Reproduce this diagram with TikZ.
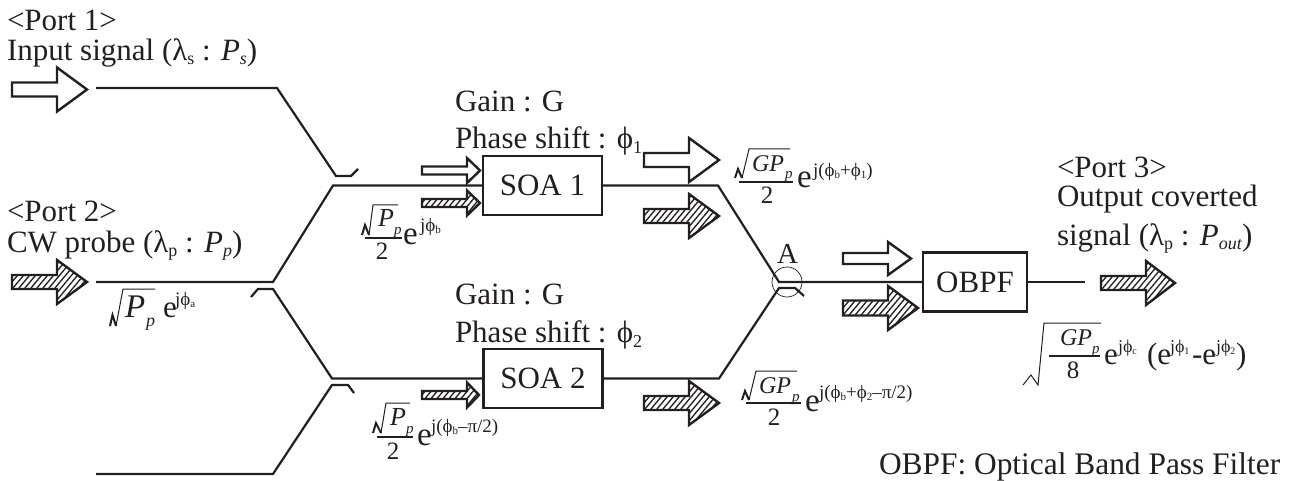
\documentclass[tikz,border=0pt]{standalone}
\usepackage{fontspec}
\setmainfont{Liberation Serif}
\newcommand{\Rs}[3]{\raisebox{#1pt}{\fontsize{#2}{#2}\selectfont #3}}
\newcommand{\Tx}[4]{\node[txt] (#1) at (#2) {\fontsize{#3}{#3}\selectfont #4};}
% x0, cy, total length, body half height, head half height, head length
\newcommand{\ArrPath}[6]{(#1,#2-#4) -- ({#1+#3-#6},#2-#4) -- ({#1+#3-#6},#2-#5) -- ({#1+#3},#2) -- ({#1+#3-#6},#2+#5) -- ({#1+#3-#6},#2+#4) -- (#1,#2+#4) -- cycle}
\newcommand{\HollowArr}[6]{\draw[arrowline] \ArrPath{#1}{#2}{#3}{#4}{#5}{#6};}
\newcommand{\HatchArr}[6]{%
  \begin{scope}
    \clip \ArrPath{#1}{#2}{#3}{#4}{#5}{#6};
    \foreach \k in {0,6,...,132} {\draw[hatchline] ({#1-25+\k},#2+30) -- ({#1+25+\k},#2-30);}
  \end{scope}
  \draw[arrowline] \ArrPath{#1}{#2}{#3}{#4}{#5}{#6};}
\begin{document}
\begin{tikzpicture}[x=1pt,y=-1pt,
  txt/.style={anchor=base west,inner sep=0pt,outer sep=0pt,text=textcol},
  mid/.style={anchor=base,inner sep=0pt,outer sep=0pt,text=textcol},
  wire/.style={line width=2.2pt,draw=linecol,line join=miter},
  arrowline/.style={line width=2.4pt,draw=linecol,line join=miter},
  hatchline/.style={line width=1.3pt,draw=linecol},
  box/.style={draw=linecol,line width=2.4pt,inner sep=0pt,minimum width=119pt,minimum height=59pt,text=textcol,font=\fontsize{31}{31}\selectfont},
  root/.style={line width=1pt,draw=linecol,line join=miter},
  rootthick/.style={line width=2pt,draw=linecol},
  bar/.style={line width=1.1pt,draw=linecol}]
\definecolor{linecol}{RGB}{35,31,32}
\colorlet{textcol}{linecol}
\useasboundingbox (0,0) rectangle (1296,481);

% boxes
\node[box] (soa1) at (542.5,185.5) {SOA 1};
\node[box] (soa2) at (543,378.5) {SOA 2};
\node[box,minimum width=104pt] (obpf) at (975,282) {OBPF};

% waveguide corners
\coordinate (a1) at (96,88); \coordinate (a2) at (277,88); \coordinate (a3) at (336,176); \coordinate (a4) at (351,176); \coordinate (a5) at (358,169);
\coordinate (b1) at (96,282); \coordinate (b2) at (273,282); \coordinate (b3) at (333,185.5);
\coordinate (c1) at (251,297); \coordinate (c2) at (258,289); \coordinate (c3) at (273,289); \coordinate (c4) at (332,378.5);
\coordinate (d1) at (354,393); \coordinate (d2) at (348,385); \coordinate (d3) at (332,385); \coordinate (d4) at (273,474); \coordinate (d5) at (96,474);
\coordinate (e1) at (718,185.5); \coordinate (e2) at (779,282);
\coordinate (f1) at (804,296); \coordinate (f2) at (795,288); \coordinate (f3) at (779,288); \coordinate (f4) at (719,378.5);
\coordinate (g1) at (1085,282);

\draw[wire] (a1) -- (a2) -- (a3) -- (a4) -- (a5);
\draw[wire] (b1) -- (b2) -- (b3) -- (soa1.west);
\draw[wire] (c1) -- (c2) -- (c3) -- (c4) -- (soa2.west);
\draw[wire] (d1) -- (d2) -- (d3) -- (d4) -- (d5);
\draw[wire] (soa1.east) -- (e1) -- (e2) -- (obpf.west);
\draw[wire] (soa2.east) -- (f4) -- (f3) -- (f2) -- (f1);
\draw[wire] (obpf.east) -- (g1);
\node[draw=linecol,line width=0.7pt,circle,minimum size=30pt,inner sep=0pt] (ca) at (787,282) {};

% arrows
\HollowArr{12}{89.5}{75}{7}{22}{30}
\HatchArr{12}{282}{75}{7}{22}{30}
\HollowArr{422}{170.5}{58}{4}{12.5}{13}
\HatchArr{422}{203}{58}{4}{12.5}{13}
\HatchArr{422}{395}{57}{4}{12.5}{12}
\HollowArr{644}{160}{75}{7}{22}{30}
\HatchArr{644}{216}{75}{7}{22}{30}
\HatchArr{644}{403}{75}{7}{22}{30}
\HollowArr{843}{258.5}{68}{5.5}{16.5}{23}
\HatchArr{843}{308}{75}{7.5}{22}{30}
\HatchArr{1101}{283}{74}{7}{22}{29}

% labels
\Tx{p1}{7,31}{31}{<Port 1>}
\Tx{p1b}{7,61}{31}{Input signal (λ\Rs{-4}{18}{s} : \textit{P}\Rs{-4}{18}{\textit{s}})}
\Tx{p2}{7,222}{31}{<Port 2>}
\Tx{p2b}{7,253}{31}{CW probe (λ\Rs{-4}{18}{p} : \textit{P}\Rs{-4}{18}{\textit{p}})}
\Tx{g1t}{455,112}{31}{Gain : G}
\Tx{ph1}{455,149}{31}{Phase shift : ϕ\Rs{-5}{18}{1}}
\Tx{g2t}{455,304}{31}{Gain : G}
\Tx{ph2}{455,342}{31}{Phase shift : ϕ\Rs{-5}{18}{2}}
\Tx{p3}{1057,178}{31}{<Port 3>}
\Tx{p3b}{1057,207}{31}{Output coverted}
\Tx{p3c}{1057,246}{31}{signal (λ\Rs{-4}{18}{p} : \textit{P}\Rs{-4}{18}{\textit{out}})}
\Tx{la}{777,264}{29}{A}
\Tx{note}{879,474}{31.4}{OBPF: Optical Band Pass Filter}

% sqrt(Pp) e^{j phi a}
\draw[rootthick] (110,326) -- (112.5,315) -- (116,326);
\draw[root] (116,326) -- (123,289) -- (155,289);
\Tx{f0a}{125,317}{33}{\textit{P}}
\Tx{f0b}{146,326}{18}{\textit{p}}
\Tx{f0c}{163,317}{31}{e}
\Tx{f0d}{175,305}{19}{jϕ\Rs{-2}{11}{a}}

% sqrt(Pp)/2 e^{j phi b}
\draw[rootthick] (362,235) -- (365,225) -- (369,235);
\draw[root] (369,235) -- (373,205) -- (398,205);
\draw[bar] (365,238) -- (402,238);
\Tx{f1a}{378,227}{26}{\textit{P}}
\Tx{f1b}{394,235}{15}{\textit{p}}
\node[mid] (f1c) at (382,259) {\fontsize{25}{25}\selectfont 2};
\Tx{f1d}{403,245}{33}{e}
\Tx{f1e}{420,232}{19}{jϕ\Rs{-2}{11}{b}}

% sqrt(Pp)/2 e^{j(phi b - pi/2)}
\draw[rootthick] (373,433) -- (376,423) -- (381,433);
\draw[root] (381,433) -- (386,403) -- (410,403);
\draw[bar] (377,437) -- (413,437);
\Tx{f2a}{390,425}{26}{\textit{P}}
\Tx{f2b}{406,433}{15}{\textit{p}}
\node[mid] (f2c) at (393,459) {\fontsize{25}{25}\selectfont 2};
\Tx{f2d}{417,445}{33}{e}
\Tx{f2e}{431,432}{19}{j(ϕ\Rs{-2}{11}{b}–π/2)}

% sqrt(GPp)/2 e^{j(phi b + phi 1)}
\draw[rootthick] (735,178) -- (738,169) -- (742,178);
\draw[root] (742,178) -- (749,149) -- (790,149);
\draw[bar] (739,182) -- (793,182);
\Tx{f3a}{752,172}{24}{\textit{GP}}
\Tx{f3b}{785,179}{15}{\textit{p}}
\node[mid] (f3c) at (767,204) {\fontsize{25}{25}\selectfont 2};
\Tx{f3d}{797,188}{33}{e}
\Tx{f3e}{813,177}{19}{j(ϕ\Rs{-2}{11}{b}+ϕ\Rs{-2}{11}{1})}

% sqrt(GPp)/2 e^{j(phi b + phi 2 - pi/2)}
\draw[rootthick] (742,400) -- (745,391) -- (749,400);
\draw[root] (749,400) -- (756,371) -- (797,371);
\draw[bar] (746,403) -- (801,403);
\Tx{f4a}{759,393}{24}{\textit{GP}}
\Tx{f4b}{792,401}{15}{\textit{p}}
\node[mid] (f4c) at (774,425) {\fontsize{25}{25}\selectfont 2};
\Tx{f4d}{805,411}{33}{e}
\Tx{f4e}{819,398}{19}{j(ϕ\Rs{-2}{11}{b}+ϕ\Rs{-2}{11}{2}–π/2)}

% output
\draw[root] (1023,385) -- (1031,375) -- (1038,385) -- (1044,323) -- (1101,323);
\draw[bar] (1049,356) -- (1100,356);
\Tx{f5a}{1060,345}{24}{\textit{GP}}
\Tx{f5b}{1092,353}{15}{\textit{p}}
\node[mid] (f5c) at (1073,378) {\fontsize{25}{25}\selectfont 8};
\Tx{f5d}{1104,364}{31}{e}
\Tx{f5e}{1118,352}{18}{jϕ\Rs{-2}{10}{c}}
\Tx{f5f}{1147,364}{31}{(e}
\Tx{f5g}{1170,352}{18}{jϕ\Rs{-2}{10}{1}}
\Tx{f5h}{1192,364}{31}{-e}
\Tx{f5i}{1216,352}{18}{jϕ\Rs{-2}{10}{2}}
\Tx{f5j}{1236,364}{31}{)}
\end{tikzpicture}
\end{document}
